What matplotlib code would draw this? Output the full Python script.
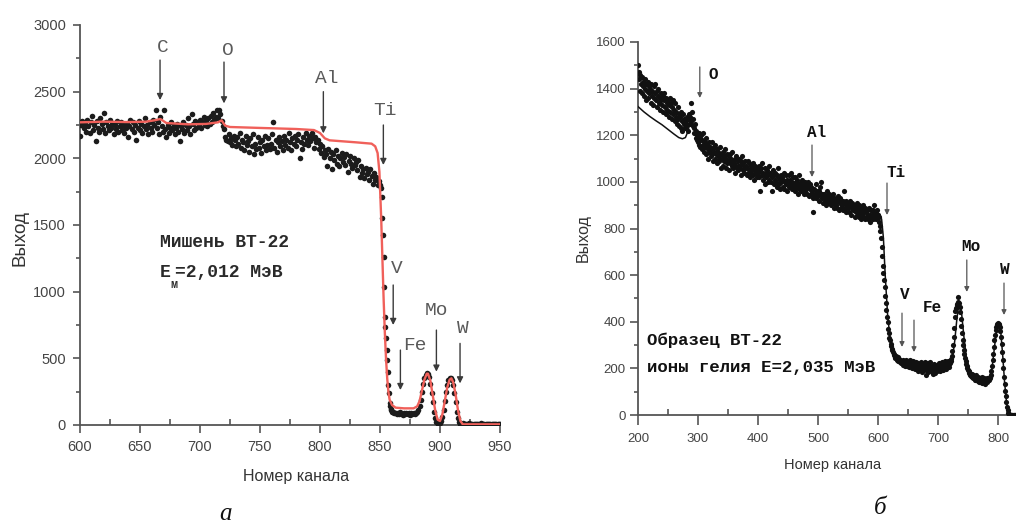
import numpy as np
import matplotlib
matplotlib.use('Agg')
import matplotlib.pyplot as plt

plt.rcParams['font.family'] = ['Liberation Sans', 'DejaVu Sans']
MONO = ['Liberation Mono', 'DejaVu Sans Mono']

# ---------------- Panel a data (channels 600..950) ----------------
a_chan = np.concatenate([np.arange(600, 851), np.arange(851, 861, 0.5), np.arange(861, 951)])
a_counts = [
    2170, 2250, 2280, 2230, 2260, 2200, 2290, 2240, 2190, 2270,
    2320, 2210, 2250, 2130, 2280, 2230, 2200, 2300, 2260, 2220,
    2340, 2190, 2270, 2240, 2210, 2290, 2230, 2260, 2180, 2250,
    2220, 2280, 2200, 2240, 2270, 2210, 2250, 2190, 2230, 2260,
    2160, 2240, 2290, 2220, 2270, 2200, 2250, 2140, 2230, 2280,
    2210, 2260, 2190, 2240, 2300, 2220, 2250, 2180, 2270, 2230,
    2200, 2290, 2250, 2360, 2230, 2270, 2180, 2310, 2240, 2200,
    2360, 2220, 2160, 2250, 2190, 2230, 2270, 2210, 2240, 2180,
    2230, 2260, 2200, 2130, 2240, 2220, 2270, 2190, 2250, 2210,
    2300, 2240, 2180, 2330, 2260, 2210, 2280, 2230, 2270, 2250,
    2290, 2230, 2270, 2310, 2250, 2280, 2240, 2300, 2260, 2320,
    2270, 2340, 2290, 2310, 2360, 2300, 2360, 2330, 2280, 2240,
    2220, 2160, 2140, 2130, 2180, 2120, 2150, 2100, 2170, 2140,
    2090, 2160, 2110, 2190, 2080, 2140, 2120, 2060, 2170, 2100,
    2130, 2050, 2150, 2090, 2180, 2030, 2110, 2070, 2160, 2080,
    2120, 2040, 2140, 2090, 2170, 2060, 2100, 2150, 2070, 2110,
    2180, 2270, 2080, 2140, 2050, 2120, 2160, 2090, 2130, 2060,
    2170, 2100, 2140, 2080, 2190, 2120, 2060, 2150, 2110, 2170,
    2090, 2140, 2180, 2000, 2120, 2070, 2160, 2110, 2190, 2140,
    2100, 2170, 2130, 2190, 2150, 2080, 2160, 2120, 2140, 2070,
    2110, 2040, 2090, 2010, 2060, 2030, 1940, 2070, 2000, 2050,
    1920, 2030, 1990, 2060, 1960, 2020, 1940, 2000, 2040, 1970,
    2010, 1950, 2030, 1900, 1980, 2020, 1960, 1930, 2000, 1950,
    1970, 1910, 1990, 1860, 1940, 1890, 1920, 1850, 1930, 1880,
    1900, 1840, 1920, 1870, 1810, 1890, 1840, 1860, 1800, 1830,
    1800,
    1780, 1712, 1550, 1425, 1262, 1037, 812, 737, 650, 562,
    487, 400, 300, 240, 165, 140, 120, 110, 100, 95,
    95, 88, 92, 84, 90, 80, 94, 86, 78, 90,
    84, 92, 80, 88, 76, 90, 85, 93, 82, 90,
    100, 110, 140, 190, 250, 310, 350, 375, 390, 385,
    360, 310, 240, 170, 100, 50, 20, 10, 8, 15,
    30, 60, 110, 180, 250, 300, 335, 350, 355, 340,
    300, 240, 170, 100, 50, 20, 10, 8, 12, 6,
    10, 5, 8, 12, 6, 9, 4, 10, 7, 11,
    6, 9, 5, 12, 8, 4, 10, 7, 9, 5,
    11, 6, 8, 4, 10, 7, 9, 5, 8, 6,
]
a_fit_x = [600, 620, 640, 655, 662, 667, 672, 690, 705, 715, 718, 721, 725, 750, 780,
           795, 800, 804, 808, 830, 843, 846, 848, 849.5, 851, 852, 853, 854, 855, 856,
           857, 858, 860, 863, 870, 878, 881, 883, 885, 887, 889, 890, 892, 894, 896,
           898, 900, 902, 904, 906, 908, 909.5, 911, 913, 915, 917, 919, 950]
a_fit_y = [2270, 2275, 2272, 2275, 2285, 2295, 2265, 2255, 2258, 2270, 2285, 2245, 2235, 2228, 2220,
           2212, 2190, 2150, 2135, 2120, 2110, 2090, 2040, 1900, 1550, 1250, 950, 700, 500, 350,
           250, 190, 150, 130, 125, 125, 140, 180, 260, 340, 385, 385, 330, 220, 110,
           40, 30, 80, 180, 280, 340, 350, 320, 230, 110, 30, 5, 5]
a_elems = ['C', 'O', 'Al', 'Ti', 'V', 'Fe', 'Mo', 'W']
a_elem_x = [666.7, 720, 802.8, 852.8, 861, 867, 897, 916.7]
a_arrow_top = [2737, 2722, 2500, 2250, 1050, 562, 712, 612]
a_arrow_tip = [2437, 2412, 2187, 1950, 750, 262, 400, 312]
a_label_x = [669, 723, 805.6, 854, 864, 879, 897, 919]
a_label_y = [2835, 2812, 2600, 2362, 1177, 600, 862, 727]

# ---------------- Panel b data (channels 200..830) ----------------
b_chan = np.arange(200, 831)
b_counts = [
    1500, 1440, 1470, 1390, 1460, 1420, 1380, 1450, 1410, 1430,
    1370, 1440, 1400, 1350, 1420, 1390, 1430, 1360, 1410, 1380,
    1400, 1340, 1420, 1370, 1390, 1330, 1410, 1360, 1380, 1420,
    1350, 1390, 1320, 1370, 1400, 1340, 1360, 1310, 1380, 1350,
    1330, 1370, 1300, 1350, 1380, 1320, 1290, 1360, 1340, 1310,
    1350, 1280, 1330, 1360, 1300, 1340, 1270, 1320, 1350, 1290,
    1310, 1260, 1340, 1280, 1300, 1250, 1320, 1270, 1290, 1240,
    1280, 1230, 1300, 1260, 1220, 1290, 1250, 1270, 1230, 1260,
    1240, 1280, 1250, 1220, 1270, 1290, 1250, 1280, 1340, 1260,
    1300, 1270, 1240, 1230, 1210, 1250, 1190, 1220, 1180, 1200,
    1170, 1210, 1160, 1190, 1150, 1200, 1140, 1180, 1210, 1160,
    1130, 1170, 1150, 1190, 1120, 1160, 1140, 1100, 1170, 1130,
    1150, 1110, 1140, 1170, 1120, 1090, 1150, 1130, 1100, 1160,
    1120, 1080, 1140, 1110, 1130, 1090, 1150, 1100, 1060, 1120,
    1100, 1130, 1070, 1110, 1090, 1140, 1060, 1100, 1120, 1080,
    1090, 1110, 1050, 1120, 1080, 1100, 1070, 1130, 1060, 1090,
    1080, 1040, 1100, 1070, 1110, 1060, 1090, 1050, 1100, 1070,
    1060, 1090, 1030, 1080, 1110, 1050, 1070, 1040, 1090, 1060,
    1070, 1030, 1060, 1090, 1040, 1080, 1050, 1020, 1070, 1040,
    1060, 1030, 1080, 1010, 1050, 1070, 1040, 1060, 1020, 1050,
    1040, 1070, 1020, 1050, 960, 1060, 1030, 1080, 1010, 1040,
    1030, 1060, 990, 1040, 1020, 1050, 1000, 1030, 1070, 1010,
    1040, 1000, 1030, 960, 1020, 1050, 990, 1030, 1010, 1040,
    1000, 1030, 980, 1020, 1060, 990, 1010, 970, 1030, 1000,
    1020, 980, 1010, 1040, 970, 1000, 1030, 990, 1010, 960,
    1000, 1030, 980, 1010, 990, 1040, 970, 1000, 1020, 980,
    990, 1020, 960, 1000, 980, 1010, 950, 990, 1030, 970,
    980, 1000, 960, 1010, 970, 990, 950, 980, 1000, 960,
    970, 990, 950, 980, 1000, 940, 970, 990, 950, 980,
    960, 930, 870, 940, 970, 950, 930, 990, 940, 960,
    940, 960, 920, 950, 980, 1000, 930, 950, 910, 940,
    950, 920, 940, 900, 930, 960, 910, 940, 920, 950,
    930, 900, 940, 910, 920, 950, 890, 930, 910, 920,
    900, 930, 890, 920, 940, 880, 910, 930, 890, 920,
    900, 920, 880, 910, 960, 890, 920, 870, 900, 910,
    890, 910, 870, 900, 920, 860, 890, 910, 880, 900,
    880, 900, 850, 890, 870, 910, 860, 880, 900, 850,
    870, 890, 840, 880, 860, 900, 850, 870, 890, 840,
    870, 850, 880, 840, 860, 890, 830, 860, 880, 850,
    860, 880, 840, 870, 900, 850, 870, 840, 880, 860,
    860, 830, 850, 810, 790, 760, 720, 680, 640, 610,
    580, 550, 510, 480, 450, 420, 400, 370, 350, 330,
    320, 305, 295, 285, 280, 270, 262, 258, 250, 245,
    255, 240, 236, 248, 232, 240, 228, 236, 222, 230,
    225, 238, 215, 230, 222, 210, 234, 218, 226, 212,
    228, 205, 220, 236, 212, 224, 200, 218, 230, 208,
    222, 196, 214, 228, 205, 218, 190, 224, 210, 200,
    215, 228, 198, 210, 184, 220, 205, 192, 226, 212,
    170, 208, 195, 222, 186, 214, 200, 228, 190, 206,
    198, 176, 212, 190, 220, 182, 206, 194, 215, 188,
    210, 196, 222, 204, 188, 216, 200, 228, 208, 195,
    218, 205, 230, 212, 198, 224, 210, 232, 206, 220,
    225, 232, 240, 255, 275, 300, 335, 375, 420, 445,
    460, 470, 478, 485, 505, 480, 462, 440, 410, 380,
    350, 320, 300, 280, 262, 245, 232, 220, 210, 200,
    195, 188, 182, 176, 172, 168, 175, 162, 170, 158,
    165, 152, 160, 148, 170, 155, 145, 162, 150, 140,
    158, 142, 150, 165, 138, 155, 145, 160, 135, 150,
    148, 160, 140, 155, 150, 150, 165, 160, 172, 190,
    210, 235, 262, 290, 320, 345, 365, 378, 385, 392,
    395, 392, 388, 378, 360, 335, 305, 270, 235, 200,
    165, 135, 105, 80, 55, 35, 20, 10, 5, 2,
    0, 0, 0, 0, 0, 0, 0, 0, 0, 0,
    0,
]
b_fit_x = [200, 210, 220, 230, 240, 250, 260, 268, 274, 279, 283, 287, 290, 295, 300, 320,
           350, 380, 420, 460, 500, 540, 580, 598, 603, 606, 609, 612, 616, 620, 625, 632,
           645, 690, 718, 724, 728, 731, 734, 736, 739, 743, 747, 752, 760, 775, 785, 790,
           795, 799, 802, 805, 808, 811, 814, 817, 820, 828]
b_fit_y = [1323, 1300, 1280, 1262, 1245, 1225, 1205, 1190, 1185, 1190, 1215, 1255, 1262, 1220, 1185, 1140,
           1095, 1062, 1030, 995, 955, 915, 875, 865, 862, 840, 760, 600, 430, 330, 275, 240,
           222, 210, 215, 240, 320, 400, 465, 480, 445, 340, 250, 200, 165, 150, 155, 200,
           310, 380, 392, 345, 250, 140, 60, 15, 0, 0]
b_elems = ['O', 'Al', 'Ti', 'V', 'Fe', 'Mo', 'W']
b_elem_x = [303, 490, 615, 640, 660, 748, 810]
b_arrow_top = [1493, 1158, 995, 437, 407, 665, 566]
b_arrow_tip = [1360, 1021, 858, 292, 270, 528, 429]
b_label_x = [325, 497, 630, 645, 690, 755, 812]
b_label_y = [1459, 1210, 1042, 515, 459, 721, 622]

AX_COLOR = '#555555'
TICK_COLOR = '#444444'

fig = plt.figure(figsize=(10.16, 5.25), dpi=100)
fig.patch.set_facecolor('white')
axa = fig.add_axes([80 / 1016, 1 - 425 / 525, 420 / 1016, 400 / 525])
axb = fig.add_axes([638 / 1016, 1 - 415 / 525, 376.8 / 1016, 373 / 525])


def style(ax, fs, pad_x, pad_y, xmaj_len, ymaj_len):
    for s in ['top', 'right']:
        ax.spines[s].set_visible(False)
    for s in ['left', 'bottom']:
        ax.spines[s].set_color(AX_COLOR)
        ax.spines[s].set_linewidth(1.3)
    ax.tick_params(axis='x', which='major', direction='out', length=xmaj_len, width=1.2,
                   color=AX_COLOR, labelsize=fs, labelcolor=TICK_COLOR, pad=pad_x)
    ax.tick_params(axis='x', which='minor', direction='in', length=4, width=1.2, color=AX_COLOR)
    ax.tick_params(axis='y', which='major', direction='out', length=ymaj_len, width=1.2,
                   color=AX_COLOR, labelsize=fs, labelcolor=TICK_COLOR, pad=pad_y)
    ax.tick_params(axis='y', which='minor', direction='out', length=3, width=1.2, color=AX_COLOR)


# ---------------- Panel a ----------------
axa.scatter(a_chan, a_counts, s=16, color='#1c1c1c', linewidths=0, zorder=3)
axa.plot(a_fit_x, a_fit_y, color='#f0605a', lw=1.7, zorder=4)
axa.set_xlim(600, 950)
axa.set_ylim(0, 3000)
axa.set_xticks(np.arange(600, 951, 50))
axa.set_xticks(np.arange(625, 951, 50), minor=True)
axa.set_yticks(np.arange(0, 3001, 500))
axa.set_yticks(np.arange(250, 3000, 500), minor=True)
style(axa, 10.5, 5, 5, 6, 5)

for el, ex, at, tip, lx, ly in zip(a_elems, a_elem_x, a_arrow_top, a_arrow_tip, a_label_x, a_label_y):
    axa.annotate('', xy=(ex, tip), xytext=(ex, at),
                 arrowprops=dict(arrowstyle='-|>', color='#3a3a3a', lw=1.0,
                                 mutation_scale=9, shrinkA=0, shrinkB=0), zorder=5)
    axa.text(lx, ly, el, family=MONO, fontsize=14, color='#5a5a5a',
             ha='center', va='center', zorder=5)

axa.text(666.7, 1372, 'Мишень ВТ-22', family=MONO, fontsize=13, fontweight='bold',
         color='#2a2a2a', ha='left', va='center')
axa.text(666.7, 1147, 'E', family=MONO, fontsize=13, fontweight='bold',
         color='#2a2a2a', ha='left', va='center')
axa.text(675.5, 1050, 'м', family=MONO, fontsize=8.5, fontweight='bold',
         color='#2a2a2a', ha='left', va='center')
axa.text(679.5, 1147, '=2,012 МэВ', family=MONO, fontsize=13, fontweight='bold',
         color='#2a2a2a', ha='left', va='center')

# ---------------- Panel b ----------------
axb.scatter(b_chan, b_counts, s=14, color='#111111', linewidths=0, zorder=3)
axb.plot(b_fit_x, b_fit_y, color='#111111', lw=1.1, zorder=4)
axb.set_xlim(200, 828)
axb.set_ylim(0, 1600)
axb.set_xticks(np.arange(200, 801, 100))
axb.set_xticks(np.arange(250, 828, 100), minor=True)
axb.set_yticks(np.arange(0, 1601, 200))
axb.set_yticks(np.arange(100, 1600, 200), minor=True)
style(axb, 9.5, 6, 3, 7, 6)

for el, ex, at, tip, lx, ly in zip(b_elems, b_elem_x, b_arrow_top, b_arrow_tip, b_label_x, b_label_y):
    axb.annotate('', xy=(ex, tip), xytext=(ex, at),
                 arrowprops=dict(arrowstyle='-|>', color='#555555', lw=0.9,
                                 mutation_scale=7, shrinkA=0, shrinkB=0), zorder=5)
    axb.text(lx, ly, el, family=MONO, fontsize=11.5, fontweight='bold', color='#111111',
             ha='center', va='center', zorder=5)

axb.text(215, 322, 'Образец ВТ-22', family=MONO, fontsize=12.5, fontweight='bold',
         color='#111111', ha='left', va='center')
axb.text(215, 202, 'ионы гелия E=2,035 МэВ', family=MONO, fontsize=12.5, fontweight='bold',
         color='#111111', ha='left', va='center')

# ---------------- Axis titles & captions ----------------
fig.text(20 / 1016, 1 - 238 / 525, 'Выход', rotation=90, fontsize=13.5, color='#333333',
         ha='center', va='center')
fig.text(296 / 1016, 1 - 476 / 525, 'Номер канала', fontsize=11.5, color='#333333',
         ha='center', va='center')
fig.text(583 / 1016, 1 - 238 / 525, 'Выход', rotation=90, fontsize=11.5, color='#333333',
         ha='center', va='center')
fig.text(833 / 1016, 1 - 465 / 525, 'Номер канала', fontsize=10.5, color='#333333',
         ha='center', va='center')
fig.text(225 / 1016, 1 - 514 / 525, 'а', family=['Liberation Serif', 'DejaVu Serif'],
         style='italic', fontsize=18, color='#111111', ha='center', va='center')
fig.text(880 / 1016, 1 - 508 / 525, 'б', family=['Liberation Serif', 'DejaVu Serif'],
         style='italic', fontsize=18, color='#111111', ha='center', va='center')

fig.savefig('out.png', dpi=100, facecolor='white')
